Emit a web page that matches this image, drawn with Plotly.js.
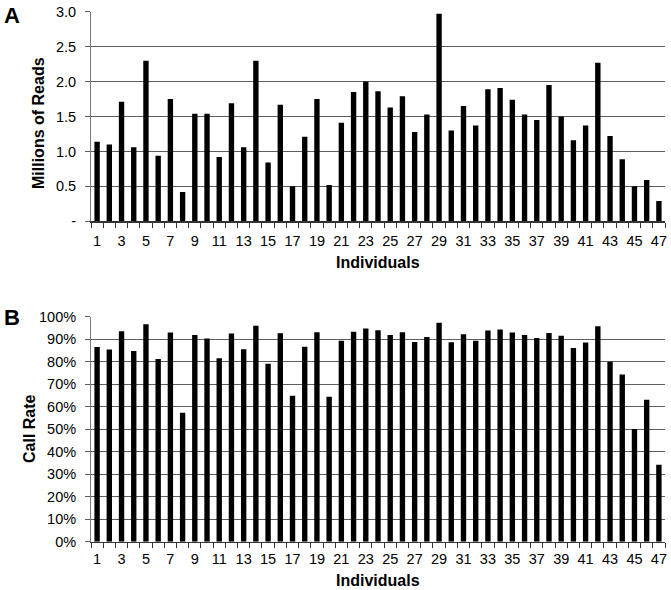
<!DOCTYPE html>
<html>
<head>
<meta charset="utf-8">
<script src="https://cdn.plot.ly/plotly-3.0.1.min.js"></script>
<style>html,body{margin:0;padding:0;background:#fff;}#chart{width:671px;height:590px;}</style>
</head>
<body>
<div id="chart"></div>
<script>
const individuals = [1,2,3,4,5,6,7,8,9,10,11,12,13,14,15,16,17,18,19,20,21,22,23,24,25,26,27,28,29,30,31,32,33,34,35,36,37,38,39,40,41,42,43,44,45,46,47];
const millionsOfReads = [1.14,1.10,1.71,1.06,2.30,0.94,1.75,0.42,1.54,1.54,0.92,1.69,1.06,2.30,0.84,1.67,0.50,1.21,1.75,0.52,1.41,1.85,2.00,1.86,1.63,1.79,1.28,1.53,2.97,1.30,1.65,1.37,1.89,1.91,1.74,1.53,1.45,1.95,1.50,1.16,1.37,2.27,1.22,0.89,0.50,0.59,0.29];
const callRate = [0.866,0.854,0.936,0.848,0.967,0.812,0.930,0.573,0.919,0.903,0.815,0.925,0.855,0.960,0.791,0.927,0.649,0.867,0.931,0.644,0.893,0.933,0.948,0.940,0.919,0.931,0.888,0.910,0.973,0.887,0.922,0.893,0.939,0.943,0.930,0.919,0.906,0.928,0.915,0.861,0.885,0.958,0.800,0.743,0.501,0.631,0.342];
const xTickVals = [1,3,5,7,9,11,13,15,17,19,21,23,25,27,29,31,33,35,37,39,41,43,45,47];
const readsTickVals = [0,0.5,1.0,1.5,2.0,2.5,3.0];
const readsTickText = ['-','0.5','1.0','1.5','2.0','2.5','3.0'];
const rateTickVals = [0,0.1,0.2,0.3,0.4,0.5,0.6,0.7,0.8,0.9,1.0];
const rateTickText = ['0%','10%','20%','30%','40%','50%','60%','70%','80%','90%','100%'];

const H = 590, W = 671;
const py = v => (H - v) / H;
const pxp = v => (v - 91) / 574;
const FONT = 'Liberation Sans, Arial, sans-serif';
const GRID = '#5e5e5e';

const traces = [
  {type:'bar', x: individuals, y: millionsOfReads, xaxis:'x', yaxis:'y', marker:{color:'#000'}, hoverinfo:'x+y'},
  {type:'bar', x: individuals, y: callRate, xaxis:'x2', yaxis:'y2', marker:{color:'#000'}, hoverinfo:'x+y'}
];

function xAxis(anchor, standoff){
  return {
    anchor: anchor, domain:[0,1], range:[0.5,47.5], tickmode:'array', tickvals: xTickVals,
    ticks:'', showgrid:false, zeroline:false, showline:true, linecolor:'#333', linewidth:1.3,
    tickfont:{family:FONT, size:14.5, color:'#000'}, ticklabelstandoff: standoff,
    minor:{tick0:0.5, dtick:1, ticks:'outside', ticklen:5, tickcolor:'#333', tickwidth:1, showgrid:false},
    fixedrange:true
  };
}
function yAxis(anchor, dom, rng, tv, tt){
  return {
    anchor: anchor, domain: dom, range: rng, tickmode:'array', tickvals: tv, ticktext: tt,
    ticks:'outside', ticklen:5, tickcolor: GRID, showgrid:true, gridcolor: GRID, gridwidth:1.2,
    zeroline:false, showline:true, linecolor:'#7a7a7a', linewidth:1,
    tickfont:{family:FONT, size:14.5, color:'#000'}, ticklabelstandoff: 6, fixedrange:true
  };
}

const layout = {
  width: W, height: H,
  margin:{l:91, r:6, t:0, b:0},
  paper_bgcolor:'#fff', plot_bgcolor:'#fff',
  showlegend:false, bargap:0.56,
  xaxis: xAxis('y', 6),
  xaxis2: xAxis('y2', 4),
  yaxis: yAxis('x', [py(221.3), py(11.7)], [0, 3.0005], readsTickVals, readsTickText),
  yaxis2: yAxis('x2', [py(541.7), py(316.7)], [0, 1.0002], rateTickVals, rateTickText),
  annotations: [
    {text:'<b>A</b>', xref:'paper', yref:'paper', x: pxp(12), y: py(15), showarrow:false, font:{family:FONT,size:22,color:'#000'}, xanchor:'center', yanchor:'middle'},
    {text:'<b>B</b>', xref:'paper', yref:'paper', x: pxp(12), y: py(318), showarrow:false, font:{family:FONT,size:22,color:'#000'}, xanchor:'center', yanchor:'middle'},
    {text:'<b>Millions of Reads</b>', xref:'paper', yref:'paper', x: pxp(38), y: py(123), textangle:-90, showarrow:false, font:{family:FONT,size:16,color:'#000'}, xanchor:'center', yanchor:'middle'},
    {text:'<b>Call Rate</b>', xref:'paper', yref:'paper', x: pxp(29), y: py(429), textangle:-90, showarrow:false, font:{family:FONT,size:16,color:'#000'}, xanchor:'center', yanchor:'middle'},
    {text:'<b>Individuals</b>', xref:'paper', yref:'paper', x: 0.5, y: py(262), showarrow:false, font:{family:FONT,size:16,color:'#000'}, xanchor:'center', yanchor:'middle'},
    {text:'<b>Individuals</b>', xref:'paper', yref:'paper', x: 0.5, y: py(580), showarrow:false, font:{family:FONT,size:16,color:'#000'}, xanchor:'center', yanchor:'middle'}
  ]
};

Plotly.newPlot('chart', traces, layout, {displayModeBar:false, staticPlot:true});
</script>
</body>
</html>
